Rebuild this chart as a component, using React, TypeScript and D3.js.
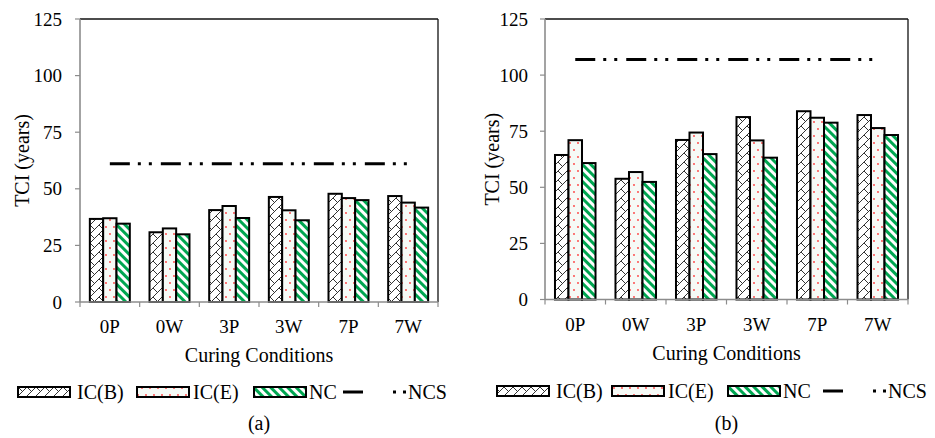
import React from "react";
import * as d3 from "d3";

const categories = ["0P", "0W", "3P", "3W", "7P", "7W"];
const seriesNames = ["IC(B)", "IC(E)", "NC"];
const yTicks = [0, 25, 50, 75, 100, 125];

const icbA = [36.7, 30.8, 40.6, 46.4, 47.8, 46.8];
const iceA = [37.0, 32.5, 42.4, 40.5, 45.9, 43.9];
const ncA = [34.6, 29.9, 37.1, 36.1, 45.0, 41.7];
const ncsA = 61.1;

const icbB = [64.4, 53.8, 71.1, 81.3, 83.9, 82.2];
const iceB = [71.0, 56.8, 74.4, 70.9, 81.0, 76.4];
const ncB = [60.8, 52.4, 64.8, 63.2, 78.8, 73.3];
const ncsB = 107.0;

const fills = ["url(#zig)", "url(#dots)", "url(#stripes)"];
const FONT = "'Liberation Serif', 'Times New Roman', serif";

type PanelProps = {
  x0: number; x1: number; yTop: number; yBot: number;
  series: number[][]; ncs: number; label: string;
  tickRight: number; titleX: number;
  legendX: number[]; legendY: number; catY: number; axisTitleY: number; labelY: number;
};

function Panel(p: PanelProps) {
  const x = d3.scaleBand<string>().domain(categories).range([p.x0, p.x1]).paddingInner(0.33).paddingOuter(0.165);
  const inner = d3.scaleBand<string>().domain(seriesNames).range([0, x.bandwidth()]).padding(0);
  const y = d3.scaleLinear().domain([0, 125]).range([p.yBot, p.yTop]);
  const step = x.step();
  const boundaries = d3.range(categories.length + 1).map((i) => p.x0 + i * step);
  const cx0 = x(categories[0])! + x.bandwidth() / 2;
  const cx1 = x(categories[categories.length - 1])! + x.bandwidth() / 2;
  const midX = (p.x0 + p.x1) / 2;
  const [lb, le, ln, lncs] = p.legendX;
  const ly = p.legendY;
  return (
    <g fontFamily={FONT} fill="#000">
      {/* plot frame */}
      <line x1={p.x0} x2={p.x1} y1={p.yTop} y2={p.yTop} stroke="#111" strokeWidth={1.3} />
      <line x1={p.x1} x2={p.x1} y1={p.yTop} y2={p.yBot} stroke="#111" strokeWidth={1.3} />
      {/* y axis */}
      <line x1={p.x0} x2={p.x0} y1={p.yTop} y2={p.yBot} stroke="#8c8c8c" strokeWidth={1.6} />
      {yTicks.map((t) => (
        <g key={t}>
          <line x1={p.x0 - 5} x2={p.x0} y1={y(t)} y2={y(t)} stroke="#8c8c8c" strokeWidth={1.2} />
          <text x={p.tickRight} y={y(t)} dy="0.35em" textAnchor="end" fontSize={19}>{t}</text>
        </g>
      ))}
      <text transform={`translate(${p.titleX},${(p.yTop + p.yBot) / 2}) rotate(-90)`} textAnchor="middle" dy="0.35em" fontSize={20}>TCI (years)</text>
      {/* bars */}
      {categories.map((c, i) => (
        <g key={c}>
          {p.series.map((s, j) => (
            <rect key={j} x={x(c)! + inner(seriesNames[j])!} y={y(s[i])} width={inner.bandwidth()} height={y(0) - y(s[i])}
              fill={fills[j]} stroke="#000" strokeWidth={2} />
          ))}
        </g>
      ))}
      {/* x axis */}
      <line x1={p.x0} x2={p.x1} y1={p.yBot} y2={p.yBot} stroke="#8c8c8c" strokeWidth={1.6} />
      {boundaries.map((bx, i) => (
        <line key={i} x1={bx} x2={bx} y1={p.yBot} y2={p.yBot + 5} stroke="#8c8c8c" strokeWidth={1.2} />
      ))}
      {categories.map((c) => (
        <text key={c} x={x(c)! + x.bandwidth() / 2} y={p.catY} textAnchor="middle" fontSize={19}>{c}</text>
      ))}
      <text x={midX} y={p.axisTitleY} textAnchor="middle" fontSize={20}>Curing Conditions</text>
      {/* NCS line */}
      <line x1={cx0} x2={cx1} y1={y(p.ncs)} y2={y(p.ncs)} stroke="#000" strokeWidth={3} strokeDasharray="20,8,3,8,3,9" />
      {/* legend */}
      <rect x={lb} y={ly - 5} width={52} height={10} fill="url(#zig)" stroke="#000" strokeWidth={2} />
      <text x={lb + 59} y={ly + 7} fontSize={20}>IC(B)</text>
      <rect x={le} y={ly - 5} width={52} height={10} fill="url(#dots)" stroke="#000" strokeWidth={2} />
      <text x={le + 56} y={ly + 7} fontSize={20}>IC(E)</text>
      <rect x={ln} y={ly - 5} width={52} height={10} fill="url(#stripes)" stroke="#000" strokeWidth={2} />
      <text x={ln + 55} y={ly + 7} fontSize={20}>NC</text>
      <line x1={lncs} x2={lncs + 20} y1={ly} y2={ly} stroke="#000" strokeWidth={3} />
      <rect x={lncs + 50} y={ly - 1.5} width={3} height={3} fill="#000" />
      <rect x={lncs + 60} y={ly - 1.5} width={3} height={3} fill="#000" />
      <text x={lncs + 65} y={ly + 7} fontSize={20}>NCS</text>
      <text x={midX} y={p.labelY} textAnchor="middle" fontSize={20}>{p.label}</text>
    </g>
  );
}

export default function App() {
  return (
    <svg width={935} height={438} style={{ display: "block", position: "absolute", left: 0, top: 0, background: "#fff" }}>
      <defs>
        <pattern id="zig" patternUnits="userSpaceOnUse" width={9} height={9}>
          <rect width={9} height={9} fill="#fff" />
          <path d="M0,9 L9,0 M-1,1 L1,-1 M8,10 L10,8 M0,0 L4.5,4.5 M4.5,13.5 L0,9" stroke="#333" strokeWidth={1} fill="none" />
        </pattern>
        <pattern id="dots" patternUnits="userSpaceOnUse" width={8} height={14}>
          <rect width={8} height={14} fill="#f6faf6" />
          <circle cx={2} cy={3} r={0.9} fill="#ff3b3b" />
          <circle cx={6} cy={10} r={0.9} fill="#ff3b3b" />
        </pattern>
        <pattern id="stripes" patternUnits="userSpaceOnUse" width={6} height={6} patternTransform="rotate(-45)">
          <rect width={6} height={6} fill="#fff" />
          <rect width={3} height={6} fill="#00a651" />
        </pattern>
      </defs>
      <Panel x0={80} x1={438} yTop={19} yBot={302} series={[icbA, iceA, ncA]} ncs={ncsA} label="(a)"
        tickRight={62} titleX={22} legendX={[18, 137, 254, 343]} legendY={392} catY={333} axisTitleY={362} labelY={430} />
      <Panel x0={545} x1={908} yTop={19} yBot={299.5} series={[icbB, iceB, ncB]} ncs={ncsB} label="(b)"
        tickRight={528} titleX={492} legendX={[497, 612, 728, 823]} legendY={391} catY={331} axisTitleY={360} labelY={430} />
    </svg>
  );
}
